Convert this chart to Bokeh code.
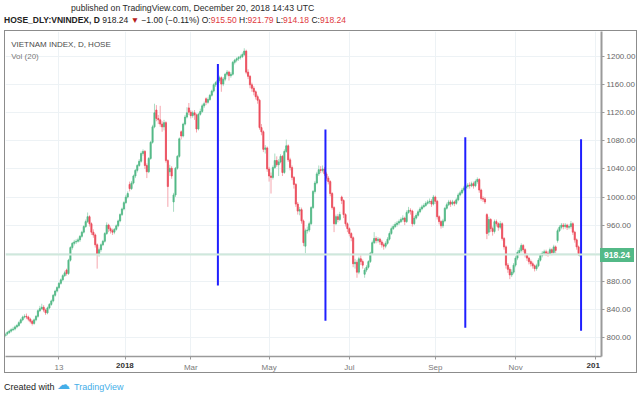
from bokeh.plotting import figure
from bokeh.layouts import column
from bokeh.models import (Range1d, FixedTicker, NumeralTickFormatter, Label, Span,
                          ColumnDataSource, Div)
from bokeh.embed import file_html
from bokeh.resources import INLINE

# ---------------- data (daily bars, index = trading day, Oct 2017 .. 20 Dec 2018) -------------
closes = [805, 807, 809, 811, 812, 815, 817, 821, 825, 829,
          830, 829, 826, 823, 820, 825, 830, 838, 841, 843,
          839, 835, 842, 847, 852, 860, 866, 871, 877, 882,
          888, 892, 891, 910, 928, 934, 936, 937, 939, 944,
          950, 958, 965, 972, 962, 950, 946, 932, 918, 925,
          932, 937, 948, 960, 955, 952, 950, 954, 959, 966,
          975, 983, 992, 1000, 1005, 1012, 1020, 1030, 1038, 1045,
          1051, 1062, 1065, 1045, 1036, 1055, 1078, 1100, 1120, 1112,
          1110, 1104, 1100, 1106, 1052, 1015, 1041, 1030, 1003, 1041,
          1058, 1083, 1087, 1104, 1114, 1120, 1121, 1116, 1120, 1117,
          1097, 1118, 1122, 1130, 1133, 1135, 1139, 1145, 1151, 1160,
          1163, 1166, 1170, 1161, 1168, 1175, 1178, 1173, 1175, 1192,
          1195, 1197, 1199, 1200, 1203, 1208, 1178, 1172, 1160, 1155,
          1150, 1143, 1138, 1099, 1093, 1068, 1070, 1040, 1030, 1028,
          1042, 1052, 1046, 1050, 1058, 1035, 1065, 1073, 1053, 1042,
          1028, 1018, 990, 980, 982, 966, 935, 952, 953, 962,
          985, 1008, 1020, 1033, 1039, 1038, 1040, 1033, 1027, 1022,
          1005, 985, 962, 972, 968, 975, 995, 975, 962, 955,
          948, 942, 905, 907, 893, 912, 908, 903, 896, 900,
          908, 920, 935, 941, 938, 940, 936, 932, 930, 934,
          940, 948, 955, 958, 961, 963, 965, 968, 970, 965,
          978, 981, 980, 962, 970, 974, 979, 983, 986, 988,
          991, 993, 994, 990, 1000, 994, 972, 965, 959, 966,
          984, 989, 993, 990, 993, 991, 996, 1003, 1006, 1010,
          1013, 1015, 1017, 1016, 1019, 1016, 1022, 1025, 1010, 998,
          997, 993, 948, 968, 955, 951, 965, 962, 957, 962,
          941, 929, 903, 897, 889, 893, 903, 913, 921, 924,
          931, 925, 918, 913, 908, 905, 902, 898, 902, 910,
          917, 920, 922, 920, 919, 925, 921, 929, 924, 952,
          957, 960, 958, 960, 957, 958, 962, 950, 939, 929,
          919.24, 918.24]

opens = [802, 805, 807, 809, 811, 812, 815, 817, 821, 825,
         829, 830, 829, 826, 823, 820, 825, 830, 838, 841,
         843, 839, 835, 842, 847, 852, 860, 866, 871, 877,
         882, 888, 896, 891, 910, 928, 934, 936, 937, 939,
         944, 950, 958, 965, 972, 962, 950, 946, 932, 918,
         925, 932, 937, 948, 960, 955, 952, 950, 954, 959,
         966, 975, 983, 992, 1000, 1018, 1012, 1020, 1030, 1038,
         1045, 1051, 1062, 1065, 1045, 1036, 1055, 1078, 1100, 1124,
         1112, 1110, 1104, 1100, 1106, 1052, 1036, 1041, 993, 1003,
         1041, 1058, 1093, 1087, 1104, 1114, 1127, 1121, 1116, 1120,
         1117, 1097, 1118, 1122, 1130, 1140, 1135, 1139, 1145, 1151,
         1160, 1163, 1166, 1170, 1161, 1168, 1175, 1178, 1173, 1175,
         1192, 1195, 1197, 1199, 1200, 1203, 1208, 1178, 1172, 1160,
         1155, 1150, 1143, 1138, 1099, 1093, 1068, 1070, 1040, 1030,
         1028, 1042, 1052, 1046, 1050, 1058, 1035, 1065, 1073, 1053,
         1042, 1028, 1018, 990, 980, 982, 966, 930, 952, 953,
         962, 985, 1008, 1020, 1033, 1039, 1038, 1040, 1033, 1027,
         1022, 1005, 985, 962, 972, 968, 1000, 995, 975, 962,
         955, 948, 942, 905, 907, 893, 912, 908, 890, 896,
         900, 908, 920, 935, 941, 938, 940, 936, 932, 930,
         934, 940, 948, 955, 958, 961, 963, 965, 968, 970,
         965, 978, 981, 980, 962, 970, 974, 979, 983, 986,
         988, 991, 993, 994, 990, 1000, 994, 972, 965, 959,
         966, 984, 989, 993, 990, 993, 991, 996, 1003, 1006,
         1010, 1013, 1015, 1017, 1016, 1019, 1016, 1022, 1025, 1010,
         998, 997, 975, 950, 968, 955, 951, 965, 962, 957,
         962, 941, 929, 903, 897, 889, 893, 903, 913, 921,
         924, 931, 925, 918, 913, 908, 905, 902, 898, 902,
         910, 917, 920, 922, 920, 919, 925, 921, 929, 938,
         952, 957, 960, 958, 960, 957, 958, 962, 950, 939,
         929, 915.50]

highs = [807, 809, 811, 813, 815, 817, 819, 823, 827, 831,
         833, 834, 831, 828, 825, 827, 832, 840, 845, 848,
         846, 841, 844, 849, 854, 862, 868, 873, 879, 884,
         890, 895, 898, 912, 930, 936, 939, 940, 942, 946,
         952, 960, 968, 978, 974, 964, 954, 948, 934, 928,
         934, 939, 950, 964, 962, 958, 955, 956, 961, 968,
         977, 985, 994, 1003, 1008, 1022, 1023, 1032, 1040, 1047,
         1054, 1065, 1068, 1067, 1048, 1057, 1080, 1103, 1133, 1131,
         1117, 1130, 1108, 1110, 1108, 1054, 1046, 1044, 1006, 1043,
         1060, 1085, 1095, 1106, 1117, 1128, 1134, 1124, 1123, 1124,
         1119, 1120, 1126, 1133, 1136, 1142, 1142, 1147, 1153, 1162,
         1165, 1169, 1173, 1172, 1171, 1177, 1181, 1180, 1178, 1194,
         1197, 1199, 1201, 1203, 1206, 1212, 1210, 1182, 1174, 1163,
         1158, 1152, 1146, 1140, 1104, 1095, 1074, 1072, 1043, 1035,
         1045, 1062, 1058, 1054, 1061, 1060, 1068, 1082, 1075, 1056,
         1045, 1030, 1020, 993, 986, 985, 968, 955, 958, 965,
         987, 1010, 1023, 1036, 1045, 1044, 1045, 1043, 1036, 1030,
         1024, 1007, 987, 975, 976, 979, 1002, 997, 977, 964,
         957, 950, 944, 912, 910, 915, 917, 911, 899, 903,
         910, 922, 938, 950, 944, 943, 942, 939, 935, 937,
         943, 951, 958, 961, 964, 966, 968, 971, 974, 972,
         981, 986, 984, 982, 973, 977, 982, 986, 989, 991,
         994, 996, 998, 997, 1003, 1002, 996, 974, 967, 969,
         986, 992, 996, 996, 996, 995, 999, 1006, 1009, 1013,
         1016, 1018, 1020, 1021, 1022, 1022, 1025, 1028, 1027, 1012,
         1001, 1000, 977, 972, 970, 958, 968, 968, 964, 966,
         964, 943, 931, 906, 900, 897, 906, 916, 924, 928,
         934, 933, 927, 920, 915, 911, 908, 904, 905, 913,
         920, 923, 925, 925, 923, 928, 927, 932, 931, 955,
         960, 963, 963, 963, 962, 961, 966, 964, 952, 941,
         931, 921.79]

lows = [800, 803, 805, 807, 809, 810, 813, 815, 819, 823,
        827, 826, 823, 820, 817, 818, 823, 828, 836, 839,
        836, 832, 833, 840, 845, 850, 858, 864, 869, 875,
        880, 886, 888, 889, 908, 925, 931, 933, 935, 936,
        942, 948, 956, 963, 958, 946, 942, 928, 898, 915,
        922, 930, 935, 946, 950, 948, 946, 947, 952, 957,
        964, 973, 981, 990, 998, 1008, 1010, 1018, 1027, 1035,
        1043, 1049, 1059, 1040, 1027, 1034, 1053, 1076, 1098, 1108,
        1104, 1100, 1093, 1095, 1049, 986, 1030, 1026, 979, 1000,
        1039, 1056, 1082, 1085, 1102, 1112, 1117, 1112, 1113, 1110,
        1092, 1095, 1116, 1120, 1127, 1131, 1133, 1137, 1143, 1149,
        1157, 1160, 1163, 1150, 1158, 1165, 1172, 1166, 1170, 1173,
        1189, 1192, 1194, 1196, 1198, 1201, 1175, 1168, 1155, 1150,
        1145, 1139, 1133, 1096, 1088, 1064, 1062, 1036, 1022, 1005,
        1025, 1040, 1043, 1030, 1048, 1030, 1033, 1063, 1050, 1038,
        1024, 1012, 986, 975, 974, 962, 930, 920, 948, 950,
        960, 983, 1005, 1018, 1030, 1034, 1035, 1030, 1023, 1018,
        1001, 982, 950, 960, 964, 966, 990, 970, 958, 950,
        944, 937, 900, 898, 885, 890, 903, 898, 885, 893,
        898, 906, 918, 933, 934, 935, 932, 928, 925, 927,
        932, 938, 946, 953, 956, 958, 960, 963, 965, 960,
        963, 976, 975, 958, 960, 968, 972, 977, 981, 984,
        986, 989, 990, 986, 988, 990, 968, 961, 955, 956,
        964, 982, 987, 986, 988, 987, 989, 994, 1001, 1004,
        1008, 1011, 1012, 1012, 1014, 1012, 1014, 1019, 1006, 995,
        993, 990, 940, 945, 950, 945, 948, 958, 952, 954,
        938, 925, 898, 892, 883, 886, 890, 900, 910, 919,
        921, 921, 914, 909, 904, 901, 898, 894, 895, 900,
        908, 914, 917, 916, 915, 917, 917, 919, 920, 935,
        950, 954, 954, 955, 953, 954, 955, 946, 935, 925,
        916, 914.18]

# x-axis ticks (bar index of first session of the period)
tick_positions = [28, 63, 97, 138, 180, 225, 267, 309]
tick_labels = ["13", "2018", "Mar", "May", "Jul", "Sep", "Nov", "201"]
bold_labels = ["2018", "201"]          # year labels are shown bold
price_ticks = [800, 840, 880, 920, 960, 1000, 1040, 1080, 1120, 1160, 1200]

# user-drawn vertical marker lines (bar index, top price, bottom price)
marker_x = [111.2, 167.5, 240.7, 301.3]
marker_top = [1189.5, 1096.3, 1085.3, 1082.4]
marker_bottom = [874.1, 823.9, 813.9, 809.6]

last_price = 918.24
header_line1 = "published on TradingView.com, December 20, 2018 14:43 UTC"
symbol_text = "HOSE_DLY:VNINDEX, D"
quote_text = ("918.24 <span style='color:#b71c1c'>\u25bc</span> \u22121.00 (\u22120.11%) "
              "O:<span style='color:#e0393e'>915.50</span> H:<span style='color:#e0393e'>921.79</span> "
              "L:<span style='color:#e0393e'>914.18</span> C:<span style='color:#e0393e'>918.24</span>")

# ---------------- styling / layout constants -----------------
UP, DOWN = "#53b987", "#eb4d5c"
UP_WICK, DOWN_WICK = "#a9dcc3", "#f5a6ae"
FONT = "Liberation Sans"
CSS_FONT = "'Liberation Sans', Arial, sans-serif"
HEADER_H, FOOTER_H = 30, 26
FRAME_W, FRAME_H = 594, 323
FRAME_LEFT = 5                      # 4px page offset + 1px box border
X_LO, X_HI = 0.02, 312
Y_LO, Y_HI = 772.8, 1235.9

idx = list(range(len(closes)))
is_up = [c >= o for o, c in zip(opens, closes)]
src = ColumnDataSource(dict(
    x=idx, o=opens, h=highs, l=lows, c=closes,
    top=[max(o, c) for o, c in zip(opens, closes)],
    bottom=[min(o, c) for o, c in zip(opens, closes)],
    body=[UP if u else DOWN for u in is_up],
    wick=[UP_WICK if u else DOWN_WICK for u in is_up],
))

fig = figure(frame_width=FRAME_W, frame_height=FRAME_H,
             x_range=Range1d(X_LO, X_HI), y_range=Range1d(Y_LO, Y_HI),
             y_axis_location="right", output_backend="svg", toolbar_location=None,
             min_border_left=0, min_border_right=36, min_border_top=0, min_border_bottom=16,
             background_fill_color="white", border_fill_color="white",
             outline_line_color=None, margin=0)
fig.styles = {"border": "1px solid #8c8c8c", "margin-left": "4px"}

fig.xgrid.grid_line_color = "#edf2f5"
fig.ygrid.grid_line_color = "#edf2f5"

xa = fig.xaxis[0]
xa.ticker = FixedTicker(ticks=tick_positions)
xa.major_label_overrides = {t: ("" if l_ in bold_labels else l_) for t, l_ in zip(tick_positions, tick_labels)}
xa.major_label_text_font = FONT
xa.major_label_text_font_size = "8px"
xa.major_label_text_color = "#7a7a7a"
xa.axis_line_color = "#9a9a9a"
xa.axis_line_width = 1.5
xa.major_tick_line_color = "#9a9a9a"
xa.major_tick_out = 3
xa.major_tick_in = 0
xa.minor_tick_line_color = None
xa.major_label_standoff = 3

ya = fig.yaxis[0]
ya.ticker = FixedTicker(ticks=price_ticks)
ya.formatter = NumeralTickFormatter(format="0.00")
ya.major_label_text_font = FONT
ya.major_label_text_font_size = "8px"
ya.major_label_text_color = "#666666"
ya.axis_line_color = "#9a9a9a"
ya.axis_line_width = 2
ya.major_tick_line_color = "#9a9a9a"
ya.major_tick_out = 3
ya.major_tick_in = 0
ya.minor_tick_line_color = None
ya.major_label_standoff = 2

fig.add_layout(Span(location=last_price, dimension="width", line_color="#cfe8dc", line_width=2))

fig.segment(x0="x", y0="l", x1="x", y1="h", line_color="wick", line_width=1, source=src)
fig.vbar(x="x", width=0.6, top="top", bottom="bottom", fill_color="body", line_color="body",
         line_width=0.8, source=src)

fig.segment(x0=marker_x, y0=marker_bottom, x1=marker_x, y1=marker_top, line_color="#1f1fff", line_width=2)

for txt, sy, col in [("VIETNAM INDEX, D, HOSE", 312, "#4a4a4a"), ("Vol (20)", 300, "#7a7a7a")]:
    fig.add_layout(Label(x=5.7, y=sy, x_units="screen", y_units="screen", text=txt, text_font=FONT,
                         text_font_size="8px", text_color=col, text_baseline="middle"))

# ---------------- header / footer (HTML) -----------------
def span(text, left, top, size, color, extra=""):
    return (f'<span style="position:absolute;left:{left}px;top:{top}px;font-size:{size};'
            f'line-height:10px;color:{color};white-space:nowrap;{extra}">{text}</span>')

header_html = span(header_line1, 71, 2.5, "8.7px", "#2a2a2a")
header_html += span(f"<b>{symbol_text}</b> {quote_text}", 4, 15, "8.5px", "#222222")
header = Div(text=f'<div style="position:relative;width:640px;height:{HEADER_H}px;font-family:{CSS_FONT};">{header_html}</div>',
             width=640, height=HEADER_H, margin=0)

footer_top = HEADER_H + 1 + FRAME_H + 16 + 1

# last-price tag on the price scale, placed from the chart's y range
tag_center = HEADER_H + 1 + (Y_HI - last_price) / (Y_HI - Y_LO) * FRAME_H
tag = span(f"{last_price:.2f}", 600, round(tag_center - 7 - footer_top, 1), "8.5px", "white",
           extra=f"background:{UP};font-weight:bold;padding:2px 4px;z-index:10;")

# bold year labels on the time scale, placed from the chart's x range
year_html = ""
for t, l_ in zip(tick_positions, tick_labels):
    if l_ in bold_labels:
        cx = FRAME_LEFT + (t - X_LO) / (X_HI - X_LO) * FRAME_W
        year_html += span(l_, round(cx, 1), -12, "8px", "#333333",
                          extra="font-weight:bold;transform:translateX(-50%);")

footer_html = span("Created with", 4, 9, "9px", "#222222")
footer_html += span("\u2601", 57, 7, "13px", "#45aee8")
footer_html += span("TradingView", 74, 9, "9px", "#45aee8")
footer_html += tag + year_html
footer = Div(text=f'<div style="position:relative;width:640px;height:{FOOTER_H}px;font-family:{CSS_FONT};">{footer_html}</div>',
             width=640, height=FOOTER_H, margin=0, styles={"overflow": "visible", "z-index": "5"})

p = column(header, fig, footer, spacing=0)

open("out.html", "w").write(file_html(p, INLINE))
